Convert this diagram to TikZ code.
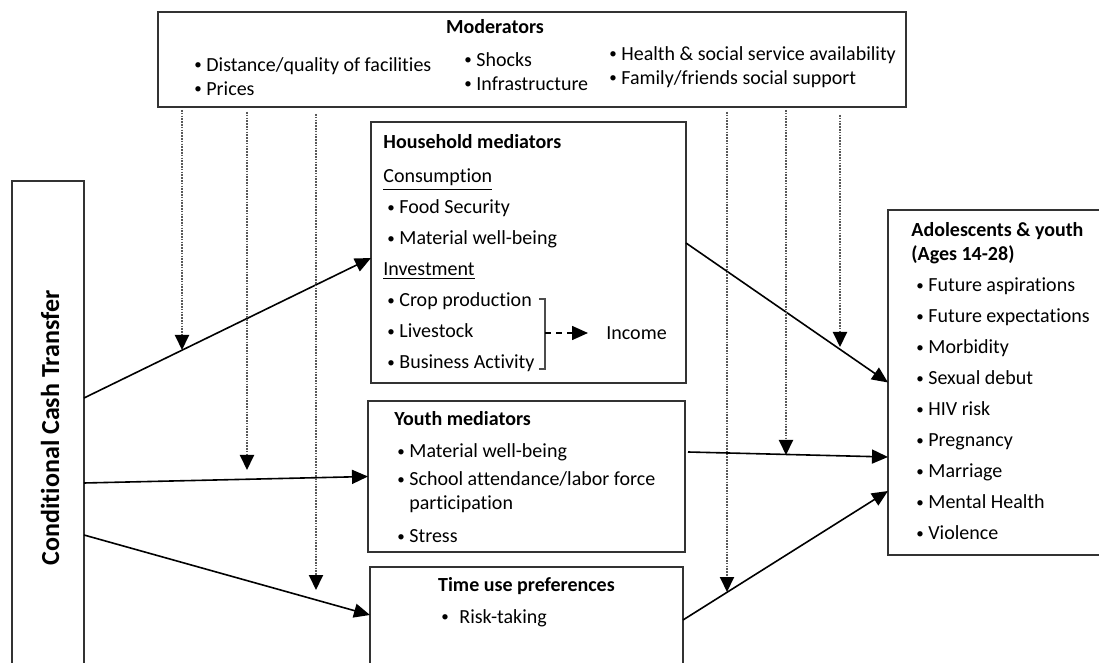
\documentclass[tikz,border=0pt]{standalone}
\usepackage{fontspec}
\setmainfont{Carlito}[Ligatures=NoCommon]
\usetikzlibrary{positioning,arrows.meta}
\newcommand{\dotmark}{\raisebox{0.9pt}{\fontsize{7.5}{7.5}\selectfont\textbullet}}
\newcommand{\bul}{\makebox[6.5pt][l]{\hspace*{0.5pt}\dotmark}}
\newcommand{\itm}{\hspace*{1.5pt}\bul}

\begin{document}
\begin{tikzpicture}[
  x=0.5pt, y=-0.5pt,
  >={Triangle[length=8pt, width=7pt]},
  font=\fontsize{10}{12}\selectfont,
  box/.style    ={draw=black!80, line width=0.8pt, inner sep=0pt, outer sep=0pt, anchor=north west},
  openbox/.style={inner sep=0pt, outer sep=0pt, anchor=north west},
  edge/.style   ={draw=black!80, line width=0.8pt},
  txt/.style    ={inner sep=0pt, align=left},
  hd/.style     ={font=\fontsize{10}{12}\selectfont\bfseries},
  arr/.style    ={->, line width=0.8pt},
  modarr/.style ={-{Triangle[length=7.5pt, width=7pt, color=black]}, line width=1pt,
                  black!65, dash pattern=on 0.8pt off 0.6pt},
  dasharr/.style={->, line width=0.8pt, dash pattern=on 3pt off 2.5pt}
]
\useasboundingbox (0,0) rectangle (1099,663);

% --- boxes ---
\node[box, minimum width=374pt, minimum height=47.5pt] (mod) at (158,12) {};
\node[openbox, minimum width=36pt, minimum height=241pt] (cct) at (12,181) {};
\node[box, minimum width=157.5pt, minimum height=130.5pt] (hh) at (371,122) {};
\node[box, minimum width=158.5pt, minimum height=75.5pt] (ym) at (368,401) {};
\node[openbox, minimum width=156.5pt, minimum height=48pt] (tu) at (370,567) {};
\node[openbox, minimum width=105.5pt, minimum height=172.5pt] (ay) at (888,210) {};

% boxes running off the page edge
\draw[edge] (cct.south west) -- (cct.north west) -- (cct.north east) -- (cct.south east);
\draw[edge] (tu.south west) -- (tu.north west) -- (tu.north east) -- (tu.south east);
\draw[edge] (ay.north east) -- (ay.north west) -- (ay.south west) -- (ay.south east);

% --- moderators ---
\node[hd, inner sep=0pt, anchor=base] (modtitle) at ([xshift=-18.5pt, yshift=-10.75pt]mod.north) {Moderators};
\node[txt, below right=22.75pt and 17.5pt of mod.north west] (modA)
  {\bul Distance/quality of facilities\\ \bul Prices};
\node[txt, below right=20.25pt and 152.5pt of mod.north west] (modB)
  {\bul Shocks\\ \bul Infrastructure};
\node[txt, below right=17.25pt and 225pt of mod.north west] (modC)
  {\bul Health \& social service availability\\ \bul Family/friends social support};

% --- cash transfer ---
\node[font=\fontsize{13}{15}\selectfont\bfseries, rotate=90] (cctlabel) at (50,428) {Conditional Cash Transfer};

% --- household mediators ---
\node[txt, below right=6.25pt and 6pt of hh.north west] (hhtxt)
  {\textbf{Household mediators}\\[5pt]
   \underline{Consumption}\\[3.5pt]
   \itm Food Security\\[3.5pt]
   \itm Material well-being\\[3.5pt]
   \underline{Investment}\\[3.5pt]
   \itm Crop production\\[3.5pt]
   \itm Livestock\\[3.5pt]
   \itm Business Activity};
\draw[line width=0.6pt, black!70] (539,299) -- (545,299) -- (545,369) -- (539,369);
\coordinate (brk) at (545,333);
\node[inner xsep=9pt, inner ysep=0pt, anchor=west] (income) at (588,333) {Income};
\draw[dasharr] (brk) -- (income);

% --- youth mediators ---
\node[txt, below right=5.25pt and 13pt of ym.north west] (ymtxt)
  {\textbf{Youth mediators}\\[4pt]
   \hspace*{1pt}\bul Material well-being\\[2pt]
   \hspace*{1pt}\bul School attendance/labor force\\
   \hspace*{7.5pt}participation\\[4.5pt]
   \hspace*{1pt}\bul Stress};

% --- time use ---
\node[hd, inner sep=0pt, anchor=base] (tutitle) at ([yshift=-12.25pt]tu.north) {Time use preferences};
\node[inner sep=0pt, anchor=base west] (risk) at ([xshift=35pt, yshift=-28.25pt]tu.north west)
  {\makebox[9.5pt][l]{\hspace*{0.5pt}\dotmark}Risk-taking};

% --- outcomes ---
\node[txt, below right=6.25pt and 11.5pt of ay.north west] (aytxt)
  {\textbf{Adolescents \& youth}\\
   \textbf{(Ages 14-28)}\\[3.5pt]
   \hspace*{2pt}\bul Future aspirations\\[3.5pt]
   \hspace*{2pt}\bul Future expectations\\[3.5pt]
   \hspace*{2pt}\bul Morbidity\\[3.5pt]
   \hspace*{2pt}\bul Sexual debut\\[3.5pt]
   \hspace*{2pt}\bul HIV risk\\[3.5pt]
   \hspace*{2pt}\bul Pregnancy\\[3.5pt]
   \hspace*{2pt}\bul Marriage\\[3.5pt]
   \hspace*{2pt}\bul Mental Health\\[3.5pt]
   \hspace*{2pt}\bul Violence};

% --- main paths ---
\draw[arr] ([yshift=12pt]cct.east)    -- ([yshift=-2.75pt]hh.west);
\draw[arr] ([yshift=-30.5pt]cct.east) -- (ym.west);
\draw[arr] ([yshift=-56.5pt]cct.east) -- (tu.west);
\draw[arr] ([yshift=4.75pt]hh.east)   -- (ay.west);
\draw[arr] ([xshift=1.5pt, yshift=12.25pt]ym.east) -- ([yshift=-37.25pt]ay.west);
\draw[arr] ([yshift=-2.5pt]tu.east)   -- ([yshift=-54.25pt]ay.west);

% --- moderating effects ---
\coordinate (tipA) at (182,350);
\coordinate (tipB) at (247,470);
\coordinate (tipC) at (316,590);
\coordinate (tipD) at (727,592);
\coordinate (tipE) at (786,455);
\coordinate (tipF) at (840,347);
\draw[modarr] (tipA |- mod.south) ++(0,3) -- (tipA);
\draw[modarr] (tipB |- mod.south) ++(0,5) -- (tipB);
\draw[modarr] (tipC |- mod.south) ++(0,7) -- (tipC);
\draw[modarr] (tipD |- mod.south) ++(0,5) -- (tipD);
\draw[modarr] (tipE |- mod.south) ++(0,3) -- (tipE);
\draw[modarr] (tipF |- mod.south) ++(0,8) -- (tipF);

\end{tikzpicture}
\end{document}
